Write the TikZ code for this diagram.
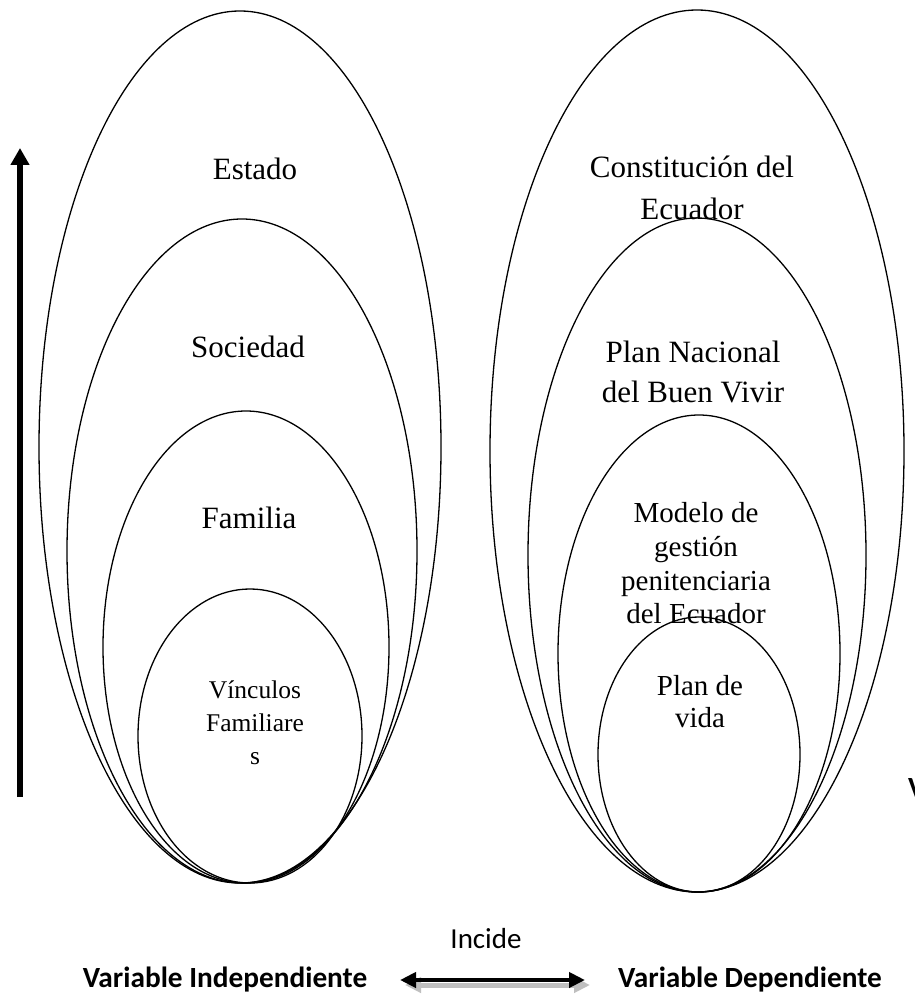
\documentclass[tikz,border=0pt]{standalone}
\usepackage{fontspec}
\setmainfont{Liberation Serif}
\newfontfamily\calfont{Carlito}
\usetikzlibrary{arrows.meta}
\begin{document}
\begin{tikzpicture}[x=1pt,y=-1pt,
  ring/.style={draw=black,line width=1.3pt},
  lbl/.style={anchor=base,inner sep=0pt,font=\fontsize{31}{38}\selectfont},
  lblm/.style={anchor=base,inner sep=0pt,font=\fontsize{29}{34}\selectfont},
  lbls/.style={anchor=base,inner sep=0pt,font=\fontsize{25.5}{30}\selectfont},
  sanslbl/.style={anchor=base,inner sep=0pt,font=\calfont\fontsize{29}{34}\selectfont},
  sansbold/.style={anchor=base,inner sep=0pt,font=\calfont\bfseries\fontsize{29.3}{34}\selectfont},
  biarrow/.style={{Triangle[length=16pt,width=15pt]}-{Triangle[length=16pt,width=15pt]}}]
\useasboundingbox[fill=white] (0,0) rectangle (914,1000);

% left group
\draw[ring] (240,447) ellipse [x radius=201, y radius=436];
\draw[ring] (242,551) ellipse [x radius=175, y radius=332];
\draw[ring] (246,647) ellipse [x radius=143, y radius=236];
\draw[ring] (250,736) ellipse [x radius=112, y radius=147];

% right group
\draw[ring] (697,451) ellipse [x radius=207, y radius=441];
\draw[ring] (697,555) ellipse [x radius=169, y radius=337];
\draw[ring] (699,653.5) ellipse [x radius=141, y radius=238.5];
\draw[ring] (699,754.5) ellipse [x radius=101, y radius=137.5];

% left labels
\node[lbl] (estado) at (255,180) {Estado};
\node[lbl] (sociedad) at (248,357) {Sociedad};
\node[lbl] (familia) at (249,528) {Familia};
\node[lbls] (vin1) at (255,698) {Vínculos};
\node[lbls] (vin2) at (255,731) {Familiare};
\node[lbls] (vin3) at (255,764) {s};

% right labels
\node[lbl] (con1) at (692,178) {Constitución del};
\node[lbl] (con2) at (692,220) {Ecuador};
\node[lbl] (pn1) at (693,362) {Plan Nacional};
\node[lbl] (pn2) at (693,402) {del Buen Vivir};
\node[lblm] (mo1) at (696,522) {Modelo de};
\node[lblm] (mo2) at (696,556) {gestión};
\node[lblm] (mo3) at (696,590) {penitenciaria};
\node[lblm] (mo4) at (696,623) {del Ecuador};
\node[lblm] (pv1) at (700,695) {Plan de};
\node[lblm] (pv2) at (700,727) {vida};

% vertical arrow
\coordinate (upA) at (20,797);
\coordinate (upB) at (20,148);
\draw[line width=6pt,-{Triangle[length=17pt,width=18pt]}] (upA) -- (upB);

% bottom
\node[sansbold] (vi) at (225,987) {Variable Independiente};
\node[sansbold] (vd) at (750,987) {Variable Dependiente};
\node[sanslbl] (inc) at (486,948) {Incide};
\coordinate (arL) at (400,980);
\coordinate (arR) at (585,980);
\draw[line width=5pt,gray!50,biarrow] ([xshift=5pt,yshift=-5pt]arL) -- ([xshift=5pt,yshift=-5pt]arR);
\draw[line width=4pt,biarrow] (arL) -- (arR);

% clipped letter at right edge (as in the reference)
\node[sansbold,anchor=base west] (vcut) at (908,797) {V};
\end{tikzpicture}
\end{document}
